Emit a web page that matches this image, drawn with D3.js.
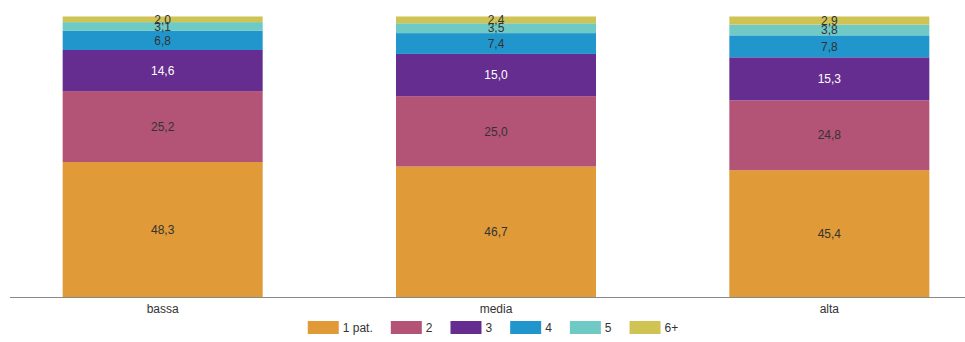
<!DOCTYPE html>
<html>
<head>
<meta charset="utf-8">
<script src="https://cdn.jsdelivr.net/npm/d3@7"></script>
<style>
  body { margin: 0; background: #fff; }
  svg { display: block; font-family: "Liberation Sans", Arial, sans-serif; }
</style>
</head>
<body>
<svg id="chart" width="965" height="342"></svg>
<script>
const categories = ["bassa", "media", "alta"];
const seriesNames = ["1 pat.", "2", "3", "4", "5", "6+"];
const values1 = [48.3, 46.7, 45.4];
const values2 = [25.2, 25.0, 24.8];
const values3 = [14.6, 15.0, 15.3];
const values4 = [6.8, 7.4, 7.8];
const values5 = [3.1, 3.5, 3.8];
const values6 = [2.0, 2.4, 2.9];
const seriesValues = [values1, values2, values3, values4, values5, values6];
const colors = ["#E09A37", "#B35375", "#652D8F", "#2196CD", "#6FC9C5", "#CFC354"];
const labelColors = ["#333", "#333", "#fff", "#333", "#333", "#333"];

const rows = categories.map((c, i) => {
  const r = { cat: c };
  seriesNames.forEach((s, j) => r[s] = seriesValues[j][i]);
  return r;
});

const svg = d3.select("#chart");
const x = d3.scaleBand().domain(categories).range([-4, 996]).paddingInner(0.4).paddingOuter(0.2);
const y = d3.scaleLinear().domain([0, 100]).range([298, 16.5]);

const stack = d3.stack().keys(seriesNames);
const stacked = stack(rows);

const g = svg.append("g");
stacked.forEach((layer, li) => {
  const lg = g.append("g");
  lg.selectAll("rect").data(layer).join("rect")
    .attr("x", d => x(d.data.cat))
    .attr("width", x.bandwidth())
    .attr("y", d => y(d[1]))
    .attr("height", d => y(d[0]) - y(d[1]))
    .attr("fill", colors[li]);
});
stacked.forEach((layer, li) => {
  g.append("g").selectAll("text").data(layer).join("text")
    .attr("x", d => x(d.data.cat) + x.bandwidth() / 2)
    .attr("y", d => (y(d[0]) + y(d[1])) / 2)
    .attr("dy", "0.35em")
    .attr("text-anchor", "middle")
    .attr("font-size", 12)
    .attr("fill", labelColors[li])
    .text(d => d3.format(".1f")(d[1] - d[0]).replace(".", ","));
});

const axis = svg.append("g").attr("transform", "translate(0,297.5)")
  .call(d3.axisBottom(x).tickSize(0).tickPadding(7));
axis.select(".domain").remove();
axis.selectAll("text").attr("font-size", 12).attr("fill", "#333").attr("font-family", "Liberation Sans, Arial, sans-serif");
svg.append("line").attr("x1", 10).attr("x2", 965).attr("y1", 297.5).attr("y2", 297.5)
  .attr("stroke", "#888").attr("stroke-width", 1.2);

// legend
const legend = svg.append("g");
let lx = 0;
seriesNames.forEach((s, i) => {
  const it = legend.append("g").attr("transform", `translate(${lx},321)`);
  it.append("rect").attr("width", 31).attr("height", 13).attr("fill", colors[i]);
  const t = it.append("text").attr("x", 35).attr("y", 6.5).attr("dy", "0.35em")
    .attr("font-size", 12).attr("fill", "#333").text(s);
  const w = t.node().getComputedTextLength();
  lx += 35 + w + 18;
});
const totalW = lx - 18;
legend.attr("transform", `translate(${493 - totalW / 2},0)`);
</script>
</body>
</html>
